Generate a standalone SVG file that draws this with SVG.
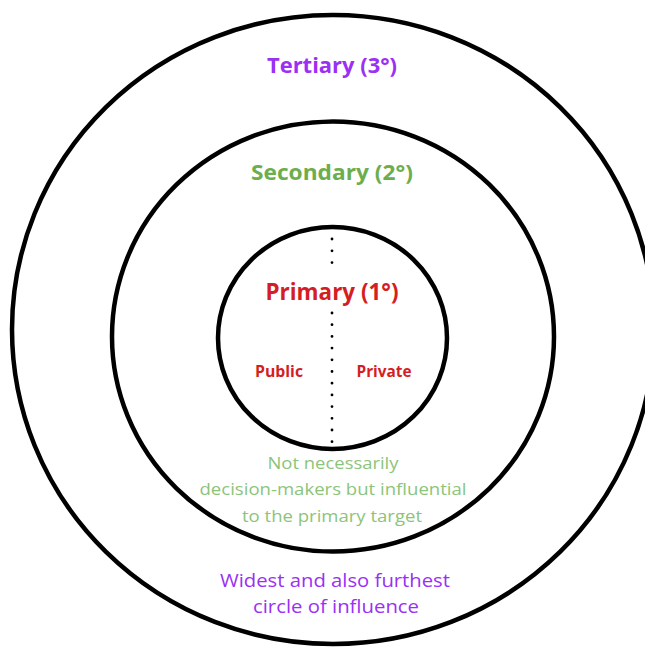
<svg xmlns="http://www.w3.org/2000/svg" width="645" height="647" viewBox="0 0 645 647">
<style>
.ring{fill:none;stroke:#000;stroke-width:4.5}
.t{font-family:"Open Sans","Liberation Sans",sans-serif;text-anchor:middle}
.b{font-weight:bold}
.purple{fill:#9B30F5}
.green{fill:#6DAE4C}
.lgreen{fill:#8CC47A}
.red{fill:#D41E24}
.dots{stroke:#000;stroke-width:2.8;stroke-linecap:round;fill:none}
</style>
<rect width="645" height="647" fill="#fff"/>
<g id="tertiary">
<ellipse class="ring" cx="333" cy="329.5" rx="321" ry="314.5"/>
<text class="t b purple" x="332" y="73" font-size="21.5" textLength="130" lengthAdjust="spacingAndGlyphs">Tertiary (3°)</text>
<text class="t purple" x="335" y="586.5" font-size="18" textLength="230" lengthAdjust="spacingAndGlyphs">Widest and also furthest</text>
<text class="t purple" x="336" y="613" font-size="18" textLength="166" lengthAdjust="spacingAndGlyphs">circle of influence</text>
</g>
<g id="secondary">
<ellipse class="ring" cx="333" cy="336.5" rx="221" ry="215"/>
<text class="t b green" x="332" y="180" font-size="21.5" textLength="162" lengthAdjust="spacingAndGlyphs">Secondary (2°)</text>
<text class="t lgreen" x="333" y="469" font-size="17" textLength="131" lengthAdjust="spacingAndGlyphs">Not necessarily</text>
<text class="t lgreen" x="333" y="495" font-size="17" textLength="267" lengthAdjust="spacingAndGlyphs">decision-makers but influential</text>
<text class="t lgreen" x="332" y="521.5" font-size="17" textLength="180" lengthAdjust="spacingAndGlyphs">to the primary target</text>
</g>
<g id="primary">
<ellipse class="ring" cx="332.5" cy="338" rx="114.5" ry="111"/>
<text class="t b red" x="332" y="300" font-size="22.5" textLength="133" lengthAdjust="spacingAndGlyphs">Primary (1°)</text>
<text class="t b red" x="279" y="377" font-size="16" textLength="48" lengthAdjust="spacingAndGlyphs">Public</text>
<text class="t b red" x="384" y="377" font-size="16" textLength="55" lengthAdjust="spacingAndGlyphs">Private</text>
</g>
<g id="connectors">
<line class="dots" x1="332" y1="239" x2="332" y2="263" stroke-dasharray="0 11.8"/>
<line class="dots" x1="332" y1="313" x2="332" y2="442" stroke-dasharray="0 11.7"/>
</g>
</svg>
